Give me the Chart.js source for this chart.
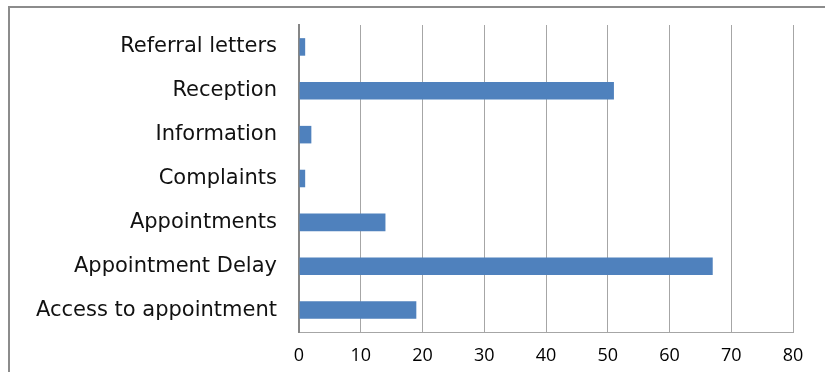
<!DOCTYPE html>
<html>
<head>
<meta charset="utf-8">
<script src="https://cdn.jsdelivr.net/npm/chart.js@4/dist/chart.umd.min.js"></script>
<style>
  html, body { margin: 0; padding: 0; background: #fff; }
  #wrap { width: 825px; height: 372px; }
</style>
</head>
<body>
<div id="wrap"><canvas id="feedbackChart" width="825" height="372"></canvas></div>
<script>
// Feedback categories, top to bottom
const categories = [
  'Referral letters',
  'Reception',
  'Information',
  'Complaints',
  'Appointments',
  'Appointment Delay',
  'Access to appointment'
];
const counts = [1, 51, 2, 1, 14, 67, 19];

// x axis range
const xMin = 0;
const xMax = 80;
const xStep = 10;

// Grey frame along the top and left edges
const framePlugin = {
  id: 'frame',
  beforeDraw(chart) {
    const ctx = chart.ctx;
    ctx.save();
    ctx.strokeStyle = '#8c8c8c';
    ctx.lineWidth = 2;
    ctx.beginPath();
    ctx.moveTo(9, chart.height);
    ctx.lineTo(9, 7);
    ctx.lineTo(chart.width, 7);
    ctx.stroke();
    ctx.restore();
  }
};

const ctx = document.getElementById('feedbackChart').getContext('2d');
new Chart(ctx, {
  type: 'bar',
  data: {
    labels: categories,
    datasets: [{
      data: counts,
      backgroundColor: '#4f81bd',
      borderWidth: 0,
      categoryPercentage: 1,
      barPercentage: 0.4
    }]
  },
  options: {
    indexAxis: 'y',
    responsive: false,
    animation: false,
    layout: { padding: { top: 25, right: 32, bottom: 0, left: 0 } },
    plugins: {
      legend: { display: false },
      tooltip: { enabled: false }
    },
    scales: {
      x: {
        min: xMin,
        max: xMax,
        ticks: {
          stepSize: xStep,
          padding: 13,
          color: '#000',
          font: { family: '"Open Sans"', size: 18 }
        },
        grid: { color: '#a6a6a6', lineWidth: 1, drawTicks: false },
        border: { display: true, color: '#a6a6a6', width: 1 },
        afterFit(scale) {
          scale.height = 40;
          scale.paddingLeft = 0;
          scale.paddingRight = 0;
        }
      },
      y: {
        ticks: {
          padding: 22,
          color: '#111',
          font: { family: '"DejaVu Sans"', size: 21 }
        },
        grid: { display: false, drawTicks: false },
        border: { display: true, color: '#868686', width: 2 },
        afterFit(scale) {
          scale.width = 299;
          scale.paddingTop = 0;
          scale.paddingBottom = 0;
        }
      }
    }
  },
  plugins: [framePlugin]
});
</script>
</body>
</html>
